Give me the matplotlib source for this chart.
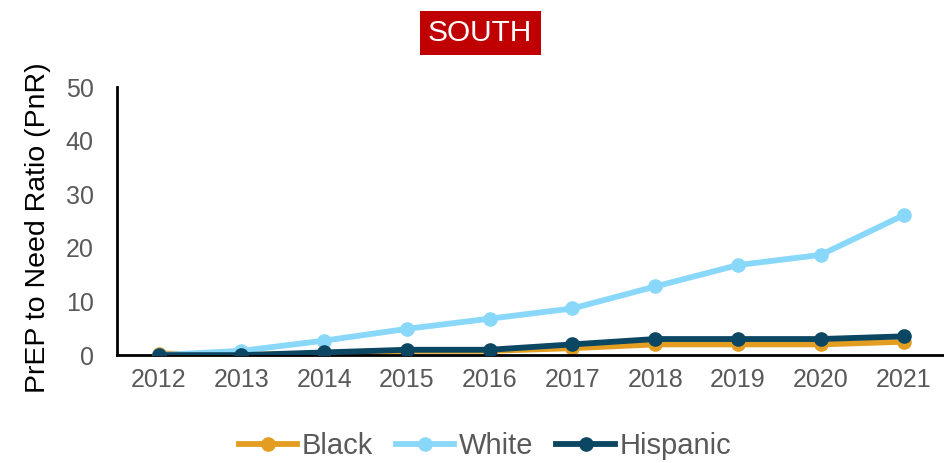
import matplotlib
matplotlib.use("Agg")
import matplotlib.pyplot as plt

plt.rcParams['font.family'] = ['Liberation Sans', 'DejaVu Sans']

years = [2012, 2013, 2014, 2015, 2016, 2017, 2018, 2019, 2020, 2021]
black = [0.3, 0.0, 0.3, 0.8, 0.8, 1.3, 2.0, 2.0, 2.0, 2.5]
white = [0.0, 0.8, 2.7, 4.9, 6.8, 8.7, 12.8, 16.8, 18.7, 26.1]
hispanic = [0.0, 0.0, 0.5, 1.0, 1.0, 2.0, 3.0, 3.0, 3.0, 3.5]

fig = plt.figure(figsize=(9.45, 4.63), dpi=100)
ax = fig.add_axes([0.124, 0.233, 0.876, 0.579])

ax.plot(years, black, color='#E39E21', lw=4.2, marker='o', ms=9.5, label='Black', zorder=2)
ax.plot(years, white, color='#89D8FA', lw=4.2, marker='o', ms=9.5, label='White', zorder=3)
ax.plot(years, hispanic, color='#0B4662', lw=4.2, marker='o', ms=9.5, label='Hispanic', zorder=4)

ax.set_xlim(2011.5, 2021.5)
ax.set_ylim(0, 50)
ax.set_xticks(years)
ax.set_yticks(range(0, 51, 10))
ax.tick_params(length=0, labelsize=18, labelcolor='#595959')
ax.tick_params(axis='y', pad=17)
ax.tick_params(axis='x', pad=9)
ax.spines['top'].set_visible(False)
ax.spines['right'].set_visible(False)
ax.spines['left'].set_linewidth(2)
ax.spines['bottom'].set_linewidth(2)
ax.set_ylabel('PrEP to Need Ratio (PnR)', fontsize=20.5, color='black')
ax.yaxis.set_label_coords(-0.08, 0.474)

ax.legend(loc='center', bbox_to_anchor=(0.444, -0.34), ncol=3, frameon=False,
          fontsize=21, handlelength=2.0, handletextpad=0.15, columnspacing=0.8,
          labelcolor='#595959', borderpad=0, borderaxespad=0)

fig.text(0.508, 0.929, 'SOUTH', color='white', fontsize=21.5, ha='center', va='center',
         bbox=dict(boxstyle='square,pad=0.28', facecolor='#C00000', edgecolor='none'))

fig.savefig('out.png', dpi=100)
